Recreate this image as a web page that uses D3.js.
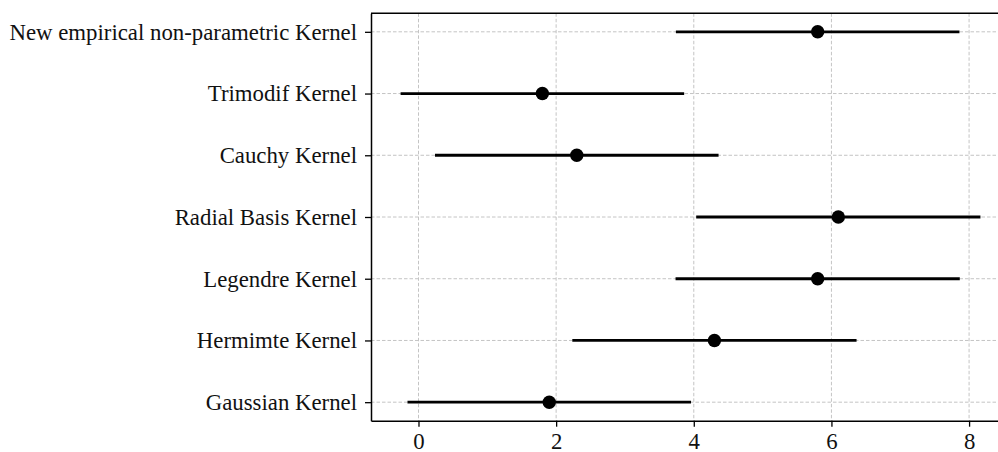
<!DOCTYPE html>
<html>
<head>
<meta charset="utf-8">
<script src="https://cdn.jsdelivr.net/npm/d3@7"></script>
<style>
  body { margin: 0; background: #fff; }
  svg { display: block; }
</style>
</head>
<body>
<div id="chart"></div>
<script>
// kernels, top to bottom
var kernels = [
    "New empirical non-parametric Kernel",
    "Trimodif Kernel",
    "Cauchy Kernel",
    "Radial Basis Kernel",
    "Legendre Kernel",
    "Hermimte Kernel",
    "Gaussian Kernel"
];
var means = [5.8, 1.8, 2.3, 6.1, 5.8, 4.3, 1.9];
var errors = [2.06, 2.06, 2.06, 2.065, 2.065, 2.065, 2.06];
var xTicks = [0, 2, 4, 6, 8];

var data = kernels.map(function (k, i) {
    return {name: k, mean: means[i], err: errors[i]};
});

var W = 998, H = 452;
// plot box (right edge runs past the canvas, as in the reference)
var box = {left: 371, top: 13.3, bottom: 420.7, right: 1009};

var svg = d3.select("#chart").append("svg")
    .attr("width", W)
    .attr("height", H);

var x = d3.scaleLinear()
    .domain([-0.69, 8.58])
    .range([box.left, box.right]);

var y = d3.scalePoint()
    .domain(kernels)
    .range([box.top, box.bottom])
    .padding(0.3);

var font = "'Liberation Serif', 'Times New Roman', serif";

// grid
svg.append("g")
    .selectAll("line")
    .data(xTicks)
    .enter().append("line")
    .attr("x1", function (d) { return x(d); })
    .attr("x2", function (d) { return x(d); })
    .attr("y1", box.top)
    .attr("y2", box.bottom)
    .attr("stroke", "#c4c4c4")
    .attr("stroke-width", 1)
    .attr("stroke-dasharray", "3.5,2");

svg.append("g")
    .selectAll("line")
    .data(kernels)
    .enter().append("line")
    .attr("x1", box.left)
    .attr("x2", box.right)
    .attr("y1", function (d) { return y(d); })
    .attr("y2", function (d) { return y(d); })
    .attr("stroke", "#c4c4c4")
    .attr("stroke-width", 1)
    .attr("stroke-dasharray", "3.5,2");

// error bars
svg.append("g")
    .selectAll("line")
    .data(data)
    .enter().append("line")
    .attr("x1", function (d) { return x(d.mean - d.err); })
    .attr("x2", function (d) { return x(d.mean + d.err); })
    .attr("y1", function (d) { return y(d.name); })
    .attr("y2", function (d) { return y(d.name); })
    .attr("stroke", "#000")
    .attr("stroke-width", 2.8);

// points
svg.append("g")
    .selectAll("circle")
    .data(data)
    .enter().append("circle")
    .attr("cx", function (d) { return x(d.mean); })
    .attr("cy", function (d) { return y(d.name); })
    .attr("r", 6.7)
    .attr("fill", "#000");

// axes
var xAxis = svg.append("g")
    .attr("transform", "translate(0," + box.bottom + ")")
    .call(d3.axisBottom(x).tickValues(xTicks).tickFormat(d3.format("d"))
        .tickSizeInner(6).tickSizeOuter(0).tickPadding(6));

var yAxis = svg.append("g")
    .attr("transform", "translate(" + box.left + ",0)")
    .call(d3.axisLeft(y).tickSizeInner(6).tickSizeOuter(0).tickPadding(8));

[xAxis, yAxis].forEach(function (a) {
    a.select(".domain").attr("stroke", "#000").attr("stroke-width", 1.5);
    a.selectAll(".tick line").attr("stroke", "#000").attr("stroke-width", 1.3);
    a.selectAll("text")
        .attr("fill", "#111")
        .style("font-family", font)
        .style("font-size", "22.8px");
});

// top spine
svg.append("line")
    .attr("x1", box.left)
    .attr("x2", box.right)
    .attr("y1", box.top)
    .attr("y2", box.top)
    .attr("stroke", "#000")
    .attr("stroke-width", 1.5);
</script>
</body>
</html>
